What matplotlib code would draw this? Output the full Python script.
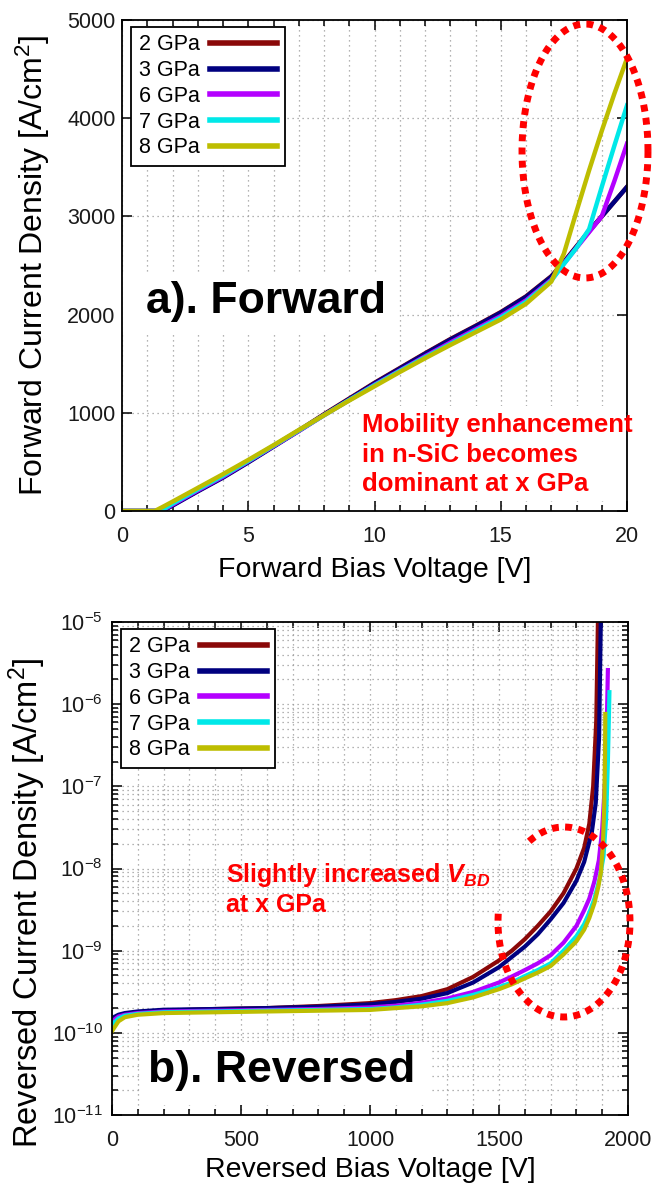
import numpy as np
import matplotlib
matplotlib.use('Agg')
import matplotlib.pyplot as plt
from matplotlib.lines import Line2D
from matplotlib.patches import Rectangle
from matplotlib.ticker import MultipleLocator, LogLocator, NullFormatter, FixedLocator

plt.rcParams['font.family'] = ['Liberation Sans', 'DejaVu Sans']
plt.rcParams['mathtext.fontset'] = 'custom'
plt.rcParams['mathtext.rm'] = 'Liberation Sans'
plt.rcParams['mathtext.it'] = 'Liberation Sans:italic'
plt.rcParams['mathtext.bf'] = 'Liberation Sans:bold'
plt.rcParams['mathtext.bfit'] = 'Liberation Sans:italic:bold'
plt.rcParams['mathtext.default'] = 'regular'

# ---------------- data ----------------
labels = ['2 GPa', '3 GPa', '6 GPa', '7 GPa', '8 GPa']
colors = ['#8a0808', '#00007f', '#b400ff', '#00e8e8', '#bdbd00']

fwd_v = [0, 1.0, 1.3, 1.6, 2, 3, 4, 5, 6, 7, 8, 9, 10, 11, 12, 13, 14, 15, 16, 17,
         17.5, 18, 18.5, 19, 19.5, 20]
fwd_2gpa = [0, 0, 0, 0, 60, 205, 345, 500, 660, 820, 985, 1145, 1305, 1455, 1605, 1750,
            1885, 2025, 2185, 2390, 2535, 2695, 2850, 3000, 3150, 3300]
fwd_3gpa = [0, 0, 0, 0, 55, 200, 340, 495, 655, 815, 980, 1140, 1300, 1450, 1600, 1745,
            1880, 2020, 2180, 2385, 2530, 2690, 2850, 3000, 3150, 3300]
fwd_6gpa = [0, 0, 0, 5, 65, 210, 350, 505, 660, 815, 975, 1130, 1285, 1430, 1575, 1715,
            1850, 1985, 2145, 2355, 2520, 2680, 2840, 3000, 3360, 3740]
fwd_7gpa = [0, 0, 0, 10, 75, 220, 360, 510, 665, 820, 975, 1130, 1280, 1425, 1565, 1700,
            1835, 1970, 2130, 2345, 2515, 2680, 2870, 3300, 3720, 4130]
fwd_8gpa = [0, 0, 0, 40, 95, 235, 375, 520, 670, 825, 975, 1125, 1270, 1415, 1555, 1690,
            1820, 1950, 2110, 2335, 2620, 3050, 3470, 3870, 4250, 4610]
fwd_series = [fwd_2gpa, fwd_3gpa, fwd_6gpa, fwd_7gpa, fwd_8gpa]

rev_v_2gpa = [0, 25, 50, 100, 200, 400, 600, 800, 1000, 1100, 1200, 1300, 1400, 1500, 1550,
              1600, 1650, 1700, 1750, 1800, 1830, 1850, 1865, 1877, 1884]
rev_j_2gpa = [1.45e-10, 1.62e-10, 1.70e-10, 1.78e-10, 1.86e-10, 1.95e-10, 2.0e-10, 2.12e-10,
              2.3e-10, 2.5e-10, 2.8e-10, 3.4e-10, 4.8e-10, 7.6e-10, 1.0e-9, 1.38e-9,
              2.0e-9, 3.0e-9, 5.0e-9, 1.0e-8, 1.78e-8, 3.5e-8, 1.0e-7, 6.3e-7, 1.3e-5]
rev_v_3gpa = [0, 25, 50, 100, 200, 400, 600, 800, 1000, 1100, 1200, 1300, 1400, 1500, 1550,
              1600, 1650, 1700, 1750, 1800, 1830, 1860, 1875, 1888, 1895]
rev_j_3gpa = [1.51e-10, 1.66e-10, 1.74e-10, 1.82e-10, 1.91e-10, 1.95e-10, 2.0e-10, 2.08e-10,
              2.22e-10, 2.38e-10, 2.6e-10, 3.05e-10, 4.1e-10, 6.3e-10, 8.4e-10, 1.12e-9,
              1.58e-9, 2.4e-9, 3.8e-9, 7.1e-9, 1.2e-8, 2.8e-8, 6.3e-8, 4.0e-7, 1.3e-5]
rev_v_6gpa = [0, 25, 50, 100, 200, 400, 600, 800, 1000, 1100, 1200, 1300, 1400, 1500, 1550,
              1600, 1650, 1700, 1750, 1800, 1830, 1850, 1870, 1887, 1900, 1912, 1918, 1922]
rev_j_6gpa = [1.38e-10, 1.58e-10, 1.66e-10, 1.74e-10, 1.82e-10, 1.86e-10, 1.9e-10, 1.95e-10,
              2.04e-10, 2.14e-10, 2.32e-10, 2.62e-10, 3.15e-10, 4.1e-10, 4.85e-10, 5.8e-10,
              7.0e-10, 8.8e-10, 1.25e-9, 2.0e-9, 3.1e-9, 4.3e-9, 7.0e-9, 1.26e-8, 3.0e-8,
              1.3e-7, 6.0e-7, 2.6e-6]
rev_v_7gpa = [0, 25, 50, 100, 200, 400, 600, 800, 1000, 1100, 1200, 1300, 1400, 1500, 1550,
              1600, 1650, 1700, 1750, 1800, 1830, 1850, 1870, 1890, 1905, 1915, 1922, 1926, 1928]
rev_j_7gpa = [1.26e-10, 1.5e-10, 1.62e-10, 1.7e-10, 1.78e-10, 1.82e-10, 1.86e-10, 1.9e-10,
              1.95e-10, 2.04e-10, 2.2e-10, 2.45e-10, 2.9e-10, 3.6e-10, 4.1e-10, 4.9e-10,
              5.8e-10, 7.0e-10, 1.0e-9, 1.5e-9, 2.1e-9, 2.9e-9, 4.3e-9, 7.5e-9, 1.4e-8,
              4.0e-8, 2.0e-7, 7.0e-7, 1.4e-6]
rev_v_8gpa = [0, 25, 50, 100, 200, 400, 600, 800, 1000, 1100, 1200, 1300, 1400, 1500, 1550,
              1600, 1650, 1700, 1750, 1800, 1830, 1850, 1870, 1885, 1895, 1903, 1908, 1911, 1912]
rev_j_8gpa = [1.05e-10, 1.38e-10, 1.55e-10, 1.66e-10, 1.74e-10, 1.78e-10, 1.82e-10, 1.86e-10,
              1.9e-10, 2.0e-10, 2.1e-10, 2.3e-10, 2.7e-10, 3.4e-10, 3.9e-10, 4.6e-10,
              5.4e-10, 6.5e-10, 9.0e-10, 1.3e-9, 1.8e-9, 2.5e-9, 3.8e-9, 6.0e-9, 9.0e-9,
              2.0e-8, 6.0e-8, 2.5e-7, 7.6e-7]
rev_v = [rev_v_2gpa, rev_v_3gpa, rev_v_6gpa, rev_v_7gpa, rev_v_8gpa]
rev_j = [rev_j_2gpa, rev_j_3gpa, rev_j_6gpa, rev_j_7gpa, rev_j_8gpa]

fwd_yticks = [0, 1000, 2000, 3000, 4000, 5000]
fwd_xticks = [0, 5, 10, 15, 20]
rev_xticks = [0, 500, 1000, 1500, 2000]
rev_yticks = [1e-11, 1e-10, 1e-9, 1e-8, 1e-7, 1e-6, 1e-5]
rev_yticklabels = ['10$^{-11}$', '10$^{-10}$', '10$^{-9}$', '10$^{-8}$', '10$^{-7}$',
                   '10$^{-6}$', '10$^{-5}$']

# ---------------- figure ----------------
W, H = 669, 1189
fig = plt.figure(figsize=(W / 100, H / 100), dpi=100)


def ax_rect(l, r, t, b):
    return [l / W, 1 - b / H, (r - l) / W, (b - t) / H]


ax1 = fig.add_axes(ax_rect(122, 627, 20, 511))
ax2 = fig.add_axes(ax_rect(112, 628, 622, 1115))

grid_kw = dict(color='#9a9a9a', linewidth=0.9, linestyle=(0, (1, 3)))
tick_col = '#1a1a1a'

for ax in (ax1, ax2):
    ax.set_axisbelow(True)
    for s in ax.spines.values():
        s.set_linewidth(1.3)
        s.set_color('black')
    ax.tick_params(which='both', direction='in', top=True, right=True,
                   labelsize=15.5, labelcolor=tick_col, width=1.1)
    ax.tick_params(which='major', length=7)
    ax.tick_params(which='minor', length=4)
    ax.tick_params(axis='x', which='major', pad=11)
ax1.tick_params(axis='y', which='major', pad=4.5)
ax2.tick_params(axis='y', which='major', pad=6.5)


def make_legend(ax):
    leg = ax.legend(loc='upper left', bbox_to_anchor=(0.018, 0.986), borderaxespad=0,
                    markerfirst=False, fontsize=15.5, handlelength=3.1, handletextpad=0.5,
                    labelspacing=0.22, borderpad=0.35, fancybox=False, framealpha=1,
                    edgecolor='black')
    leg.get_frame().set_linewidth(1.3)
    for ln in leg.get_lines():
        ln.set_linewidth(4)
    return leg


# ---- forward ----
for y, c, lab in zip(fwd_series, colors, labels):
    ax1.plot(fwd_v, y, color=c, lw=3.2, label=lab)
ax1.set_xlim(0, 20)
ax1.set_ylim(0, 5000)
ax1.set_xticks(fwd_xticks)
ax1.xaxis.set_minor_locator(MultipleLocator(1))
ax1.set_yticks(fwd_yticks)
ax1.grid(True, which='major', axis='y', **grid_kw)
ax1.grid(True, which='both', axis='x', **grid_kw)
ax1.set_xlabel('Forward Bias Voltage [V]', fontsize=20.5)
ax1.set_ylabel('Forward Current Density [A/cm$^2$]', fontsize=23)
ax1.xaxis.set_label_coords(0.5, -0.094)
ax1.yaxis.set_label_coords(-0.138, 0.5)
make_legend(ax1)

# white patches behind annotations
ax1.add_patch(Rectangle((0, (511 - 332) / 491), (399 - 122) / 505,
                        (332 - 275) / 491, transform=ax1.transAxes, facecolor='white',
                        edgecolor='none', zorder=1))
ax1.add_patch(Rectangle(((360 - 122) / 505, 10 / 491), (626 - 360) / 505,
                        (502 - 407) / 491, transform=ax1.transAxes, facecolor='white',
                        edgecolor='none', zorder=1))
ax1.text((146 - 122) / 505, (511 - 313) / 491, 'a). Forward', transform=ax1.transAxes,
         fontsize=32, fontweight='bold', va='baseline', ha='left', zorder=5)
for i, line in enumerate(['Mobility enhancement', 'in n-SiC becomes', 'dominant at x GPa']):
    ax1.text((362 - 122) / 505, (511 - (432 + 29.5 * i)) / 491, line,
             transform=ax1.transAxes, fontsize=18.5, fontweight='bold', color='#ff0000',
             va='baseline', ha='left', zorder=5, clip_on=False)

# ---- reversed ----
for xv, yv, c, lab in zip(rev_v, rev_j, colors, labels):
    ax2.plot(xv, yv, color=c, lw=3.0, label=lab)
ax2.set_yscale('log')
ax2.set_xlim(0, 2000)
ax2.set_ylim(1e-11, 1e-5)
ax2.set_xticks(rev_xticks)
ax2.xaxis.set_minor_locator(MultipleLocator(100))
ax2.yaxis.set_major_locator(FixedLocator(rev_yticks))
ax2.set_yticklabels(rev_yticklabels)
ax2.yaxis.set_minor_locator(LogLocator(base=10, subs=np.arange(2, 10), numticks=20))
ax2.yaxis.set_minor_formatter(NullFormatter())
ax2.grid(True, which='both', **grid_kw)
ax2.set_xlabel('Reversed Bias Voltage [V]', fontsize=20.5)
ax2.set_ylabel('Reversed Current Density [A/cm$^2$]', fontsize=23.5)
ax2.xaxis.set_label_coords(0.5, -0.085)
ax2.yaxis.set_label_coords(-0.124, 0.43)
make_legend(ax2)

ax2.add_patch(Rectangle(((140 - 112) / 516, (1115 - 1105) / 493), (429 - 140) / 516,
                        (1105 - 1042) / 493, transform=ax2.transAxes, facecolor='white',
                        edgecolor='none', zorder=1))
ax2.text((148 - 112) / 516, (1115 - 1082) / 493, 'b). Reversed', transform=ax2.transAxes,
         fontsize=32, fontweight='bold', va='baseline', ha='left', zorder=5)
ax2.text((226 - 112) / 516, (1115 - 882) / 493, r'Slightly increased $\mathbfit{V}_{\mathbfit{BD}}$',
         transform=ax2.transAxes, fontsize=18, fontweight='bold', color='#ff0000',
         va='baseline', ha='left', zorder=5)
ax2.text((226 - 112) / 516, (1115 - 912) / 493, 'at x GPa',
         transform=ax2.transAxes, fontsize=18, fontweight='bold', color='#ff0000',
         va='baseline', ha='left', zorder=5)

# ---- red dotted ellipses (figure pixel coords) ----
dot_kw = dict(color='#ff0000', linewidth=5, linestyle=(0, (1, 0.9)),
              dash_capstyle='butt', transform=fig.transFigure, zorder=10)

t1 = np.linspace(0, 2 * np.pi, 400)
cx, cy, a, b = 585, 151, 63, 127
fig.add_artist(Line2D((cx + a * np.cos(t1)) / W, 1 - (cy - b * np.sin(t1)) / H, **dot_kw))

t2 = np.linspace(np.deg2rad(-185), np.deg2rad(126), 400)
cx, cy, a, b = 564, 922, 66, 95
fig.add_artist(Line2D((cx + a * np.cos(t2)) / W, 1 - (cy - b * np.sin(t2)) / H, **dot_kw))

fig.savefig('out.png', dpi=100)
